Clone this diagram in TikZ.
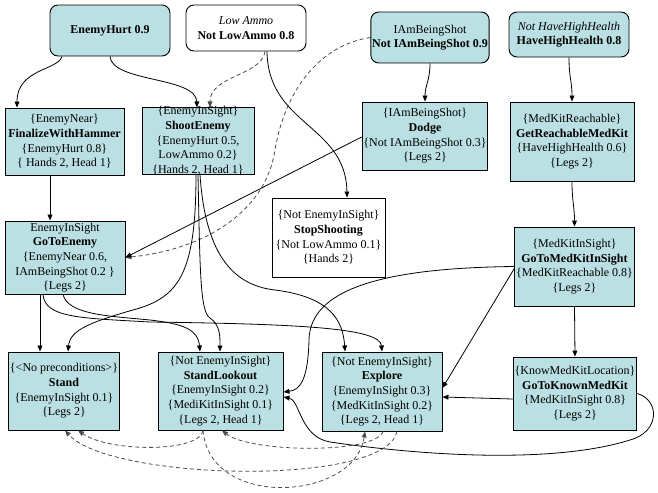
\documentclass[tikz,border=0pt]{standalone}
\usepackage{fontspec}
\setmainfont{Liberation Serif}
\usetikzlibrary{arrows.meta,calc}
\definecolor{actfill}{RGB}{187,224,227}
\tikzset{
  act/.style={draw, line width=0.7pt, fill=actfill, align=center, inner sep=1pt},
  goal/.style={act, rounded corners=6pt},
  link/.style={line width=0.6pt, -{Triangle[length=4.5pt,width=3.6pt]}},
  weak/.style={link, black!70, dash pattern=on 3pt off 2.2pt}
}
\begin{document}
\begin{tikzpicture}[x=0.75pt, y=-0.75pt, font=\fontsize{9pt}{11pt}\selectfont]
\fill[white] (0,0) rectangle (658,493);
\useasboundingbox (0,0) rectangle (658,493);
\node[goal, minimum width=90pt, minimum height=38.25pt] (hurt) at (110,30.5) {\textbf{EnemyHurt 0.9}};
\node[goal, fill=white, minimum width=90pt, minimum height=34.5pt] (ammo) at (246,28) {\textit{Low Ammo}\\\textbf{Not LowAmmo 0.8}};
\node[goal, minimum width=85.5pt, minimum height=38.25pt] (shot) at (430,37.5) {IAmBeingShot\\\textbf{Not IAmBeingShot 0.9}};
\node[goal, minimum width=90pt, minimum height=33.75pt] (health) at (569,34.5) {\textit{Not HaveHighHealth}\\\textbf{HaveHighHealth 0.8}};
\node[act, minimum width=89.25pt, minimum height=50.25pt] (hammer) at (64.5,141.5) {\{EnemyNear\}\\\textbf{FinalizeWithHammer}\\\{EnemyHurt 0.8\}\\\{ Hands 2, Head 1\}};
\node[act, minimum width=84pt, inner ysep=-1pt] (shoot) at (198,141) {\{EnemyInSight\}\\\textbf{ShootEnemy}\\\{EnemyHurt 0.5,\\LowAmmo 0.2\}\\\{Hands 2, Head 1\}};
\node[act, minimum width=85.5pt, minimum height=51pt] (dodge) at (425,136) {\{IAmBeingShot\}\\\textbf{Dodge}\\\{Not IAmBeingShot 0.3\}\\\{Legs 2\}};
\node[act, minimum width=93pt, minimum height=59.25pt] (reach) at (572,141.5) {\{MedKitReachable\}\\\textbf{GetReachableMedKit}\\\{HaveHighHealth 0.6\}\\\{Legs 2\}};
\node[act, minimum width=90pt, minimum height=54.75pt] (chase) at (65,257.5) {EnemyInSight\\\textbf{GoToEnemy}\\\{EnemyNear 0.6,\\IAmBeingShot 0.2 \}\\\{Legs 2\}};
\node[act, fill=white, minimum width=84.75pt, minimum height=59.25pt] (stop) at (328.5,237.5) {\{Not EnemyInSight\}\\\textbf{StopShooting}\\\{Not LowAmmo 0.1\}\\\{Hands 2\}};
\node[act, minimum width=89.25pt, minimum height=59.25pt] (insight) at (574.5,266.5) {\{MedKitInSight\}\\\textbf{GoToMedKitInSight}\\\{MedKitReachable 0.8\}\\\{Legs 2\}};
\node[act, minimum width=81pt, minimum height=58.5pt] (stand) at (64,391) {\{\textless No preconditions\textgreater\}\\\textbf{Stand}\\\{EnemyInSight 0.1\}\\\{Legs 2\}};
\node[act, minimum width=93.75pt, minimum height=58.5pt] (lookout) at (220.5,391) {\{Not EnemyInSight\}\\\textbf{StandLookout}\\\{EnemyInSight 0.2\}\\\{MediKitInSight 0.1\}\\\{Legs 2, Head 1\}};
\node[act, minimum width=90pt, minimum height=59.25pt] (explore) at (382,391.5) {\{Not EnemyInSight\}\\\textbf{Explore}\\\{EnemyInSight 0.3\}\\\{MedKitInSight 0.2\}\\\{Legs 2, Head 1\}};
\node[act, minimum width=90pt, minimum height=54.75pt] (known) at (575,393.5) {\{KnowMedKitLocation\}\\\textbf{GoToKnownMedKit}\\\{MedKitInSight 0.8\}\\\{Legs 2\}};
\draw[link] ($(hurt.south)+(-48,0)$) .. controls +(-4,14) and +(0,-39) .. ($(hammer.north)+(-47.5,0)$);
\draw[link] (hurt.south) .. controls +(2,26) and +(-1,-31) .. ($(shoot.north)+(-1,0)$);
\draw[weak] ($(ammo.south)+(19,0)$) .. controls +(-3,24) and +(0,-32) .. ($(shoot.north)+(12,0)$);
\draw[link] ($(ammo.south)+(21,0)$) .. controls +(1,74) and +(-1,-73) .. ($(stop.north)+(18.5,0)$);
\draw[weak] (shot.west) .. controls (320,45) and (285,90) .. (275,150) .. controls (265,215) and (200,250) .. (chase.east);
\draw[link] ($(dodge.west)+(0,1)$) -- (chase.east);
\draw[link] (shot.south) .. controls +(0,17) and +(0,-16) .. (dodge.north);
\draw[link] (health.south) .. controls +(0,20) and +(0,-20) .. (reach.north);
\draw[link] ($(hammer.south)+(-14.5,0)$) -- ($(chase.north)+(-15,0)$);
\draw[link] ($(chase.south)+(-25,0)$) -- ($(stand.north)+(-24,0)$);
\draw[link] ($(chase.south)+(-22,0)$) .. controls (45,318) and (80,318) .. (150,322) .. controls (300,324) and (380,328) .. (explore.north);
\draw[link] ($(chase.south)+(-2,0)$) .. controls (68,315) and (110,316) .. (150,320) .. controls (185,324) and (198,330) .. ($(lookout.north)+(-20.5,0)$);
\draw[link] ($(shoot.south)+(-2,0)$) .. controls (196,270) and (180,295) .. (140,308) .. controls (90,322) and (70,330) .. ($(stand.north)+(4,0)$);
\draw[link] (shoot.south) .. controls (200,270) and (200,312) .. (210,318) .. controls (220,325) and (220,335) .. ($(lookout.north)+(-0.5,0)$);
\draw[link] ($(shoot.south)+(2,0)$) .. controls (205,250) and (230,285) .. (275,290) .. controls (330,297) and (343,320) .. ($(explore.north)+(-37,0)$);
\draw[link] (reach.south) .. controls +(0,20) and +(0,-20) .. (insight.north);
\draw[link] (insight.south) -- (known.north);
\draw[link] (insight.west) .. controls (380,268) and (310,290) .. (309,340) .. controls (308,380) and (300,390) .. ($(lookout.east)+(0,1)$);
\draw[link] ($(insight.west)+(0,2)$) -- ($(explore.east)+(0,-3.5)$);
\draw[link] ($(known.west)+(0,5.5)$) -- ($(explore.east)+(0,5.5)$);
\draw[link] (known.east) .. controls (660,400) and (660,432) .. (630,440) .. controls (560,462) and (440,458) .. (330,442) .. controls (300,437) and (300,400) .. ($(lookout.east)+(0,6)$);
\draw[weak] ($(lookout.south)+(-17.5,0)$) .. controls +(-3,22) and +(32,22) .. ($(stand.south)+(14,0)$);
\draw[weak] ($(lookout.south)+(-17.5,0)$) .. controls +(7,80) and +(-10,69) .. ($(explore.south)+(-17,0)$);
\draw[weak] ($(explore.south)+(1,0)$) .. controls +(-8,23) and +(28,22) .. ($(lookout.south)+(1.5,0)$);
\draw[weak] ($(explore.south)+(15,0)$) .. controls +(-12,56) and +(45,50) .. ($(stand.south)+(1,0)$);
\end{tikzpicture}
\end{document}
